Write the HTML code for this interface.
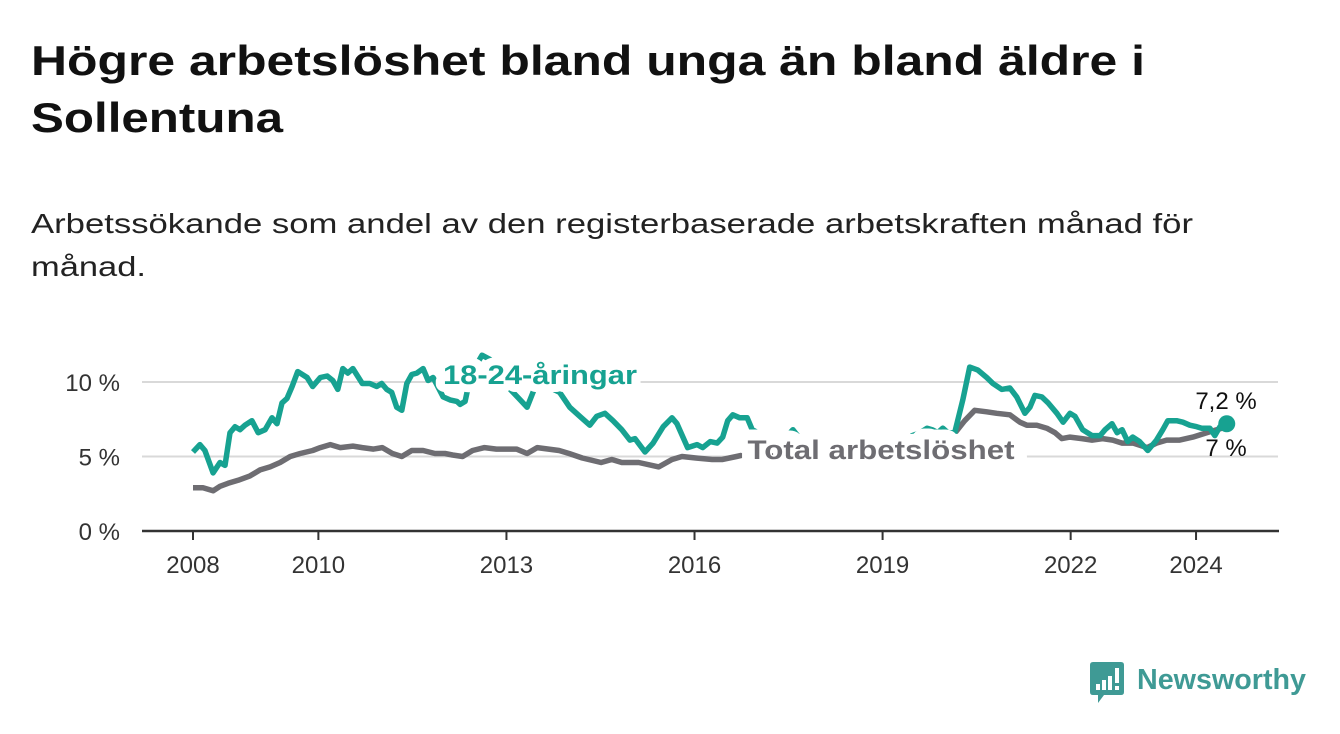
<!DOCTYPE html>
<html><head><meta charset="utf-8">
<style>
html,body{margin:0;padding:0;background:#fff;}
svg{display:block;font-family:"Liberation Sans",sans-serif;}
</style></head>
<body>
<svg id="chart" width="1340" height="734" viewBox="0 0 1340 734" xmlns="http://www.w3.org/2000/svg">
  <text font-weight="bold" font-size="42" fill="#111">
    <tspan x="31" y="75" textLength="1114" lengthAdjust="spacingAndGlyphs">Högre arbetslöshet bland unga än bland äldre i</tspan>
    <tspan x="31" y="132" textLength="252" lengthAdjust="spacingAndGlyphs">Sollentuna</tspan>
  </text>
  <text font-size="28" fill="#222">
    <tspan x="31" y="233" textLength="1162" lengthAdjust="spacingAndGlyphs">Arbetssökande som andel av den registerbaserade arbetskraften månad för</tspan>
    <tspan x="31" y="276" textLength="115" lengthAdjust="spacingAndGlyphs">månad.</tspan>
  </text>
  <g id="grid"></g>
  <g id="lines"></g>
  <g id="labels"></g>
  <g transform="translate(1090,662)">
    <path d="M3 0 H31 Q34 0 34 3 V30 Q34 33 31 33 H14 L8 41 V33 H3 Q0 33 0 30 V3 Q0 0 3 0Z" fill="#3f9a95"/>
    <rect x="6" y="22" width="4" height="6" fill="#fff"/>
    <rect x="12" y="18" width="4" height="10" fill="#fff"/>
    <rect x="18" y="14" width="4" height="14" fill="#fff"/>
    <rect x="25" y="6" width="4" height="15" fill="#fff"/>
    <rect x="25" y="24" width="4" height="4" fill="#fff"/>
    <text x="47" y="27" font-size="29" font-weight="bold" fill="#3f9a95" textLength="169" lengthAdjust="spacingAndGlyphs">Newsworthy</text>
  </g>
</svg>
<script>
const yTicks = [0, 5, 10];
const yTickLabels = ["0 %", "5 %", "10 %"];
const xTicks = [2008, 2010, 2013, 2016, 2019, 2022, 2024];
const youthYears = [2008.00,2008.11,2008.19,2008.32,2008.43,2008.51,2008.59,2008.67,2008.75,2008.83,2008.94,2009.04,2009.15,2009.26,2009.34,2009.42,2009.50,2009.58,2009.67,2009.82,2009.91,2010.03,2010.14,2010.23,2010.31,2010.39,2010.47,2010.55,2010.70,2010.82,2010.93,2011.01,2011.09,2011.17,2011.25,2011.33,2011.41,2011.49,2011.57,2011.67,2011.75,2011.83,2011.99,2012.10,2012.21,2012.26,2012.34,2012.37,2012.50,2012.61,2012.74,2012.90,2013.06,2013.22,2013.33,2013.45,2013.61,2013.85,2014.01,2014.17,2014.33,2014.44,2014.57,2014.70,2014.84,2014.97,2015.05,2015.21,2015.34,2015.50,2015.64,2015.72,2015.89,2016.04,2016.13,2016.25,2016.36,2016.45,2016.53,2016.61,2016.72,2016.84,2016.92,2017.01,2017.20,2017.44,2017.57,2017.68,2018.00,2018.48,2018.96,2019.28,2019.60,2019.71,2019.79,2019.88,2019.96,2020.04,2020.15,2020.28,2020.39,2020.52,2020.66,2020.76,2020.90,2021.03,2021.14,2021.27,2021.35,2021.43,2021.54,2021.64,2021.78,2021.88,2021.99,2022.07,2022.19,2022.34,2022.47,2022.55,2022.66,2022.74,2022.82,2022.91,2022.99,2023.10,2023.23,2023.37,2023.47,2023.55,2023.69,2023.79,2023.90,2024.01,2024.09,2024.22,2024.30,2024.38,2024.49];
const youthValues = [5.3,5.8,5.4,3.9,4.6,4.4,6.6,7.0,6.8,7.1,7.4,6.6,6.8,7.6,7.2,8.6,8.9,9.7,10.7,10.3,9.7,10.3,10.4,10.1,9.5,10.9,10.6,10.9,9.9,9.9,9.7,9.9,9.5,9.3,8.3,8.1,9.9,10.5,10.6,10.9,10.1,10.3,9.0,8.8,8.7,8.5,8.7,9.3,11.0,11.8,11.5,10.5,9.5,8.8,8.3,9.6,9.8,9.3,8.3,7.7,7.1,7.7,7.9,7.4,6.8,6.1,6.2,5.3,5.9,7.0,7.6,7.2,5.6,5.8,5.6,6.0,5.9,6.3,7.4,7.8,7.6,7.6,6.8,6.6,6.2,6.2,6.8,6.2,6.0,5.9,6.0,6.1,6.6,6.9,6.8,6.6,6.9,6.6,6.6,8.8,11.0,10.8,10.3,9.9,9.5,9.6,9.0,7.9,8.3,9.1,9.0,8.6,7.9,7.3,7.9,7.7,6.8,6.4,6.4,6.8,7.2,6.6,6.8,6.0,6.3,6.0,5.4,6.1,6.8,7.4,7.4,7.3,7.1,7.0,6.9,6.9,6.4,7.0,7.2];
const totalYears = [2008.00,2008.16,2008.32,2008.43,2008.56,2008.72,2008.91,2009.07,2009.23,2009.39,2009.55,2009.71,2009.91,2010.03,2010.19,2010.35,2010.55,2010.70,2010.88,2011.02,2011.18,2011.33,2011.49,2011.67,2011.86,2012.02,2012.14,2012.30,2012.46,2012.65,2012.84,2013.16,2013.33,2013.49,2013.84,2014.00,2014.21,2014.51,2014.68,2014.84,2015.11,2015.43,2015.64,2015.80,2016.02,2016.28,2016.44,2016.67,2016.88,2017.20,2017.60,2018.00,2018.50,2019.00,2019.50,2019.90,2020.12,2020.31,2020.47,2020.66,2020.82,2021.03,2021.19,2021.30,2021.46,2021.62,2021.75,2021.86,2021.99,2022.18,2022.34,2022.51,2022.67,2022.82,2023.00,2023.22,2023.37,2023.53,2023.74,2023.95,2024.17,2024.33,2024.49];
const totalValues = [2.9,2.9,2.7,3.0,3.2,3.4,3.7,4.1,4.3,4.6,5.0,5.2,5.4,5.6,5.8,5.6,5.7,5.6,5.5,5.6,5.2,5.0,5.4,5.4,5.2,5.2,5.1,5.0,5.4,5.6,5.5,5.5,5.2,5.6,5.4,5.2,4.9,4.6,4.8,4.6,4.6,4.3,4.8,5.0,4.9,4.8,4.8,5.0,5.2,5.3,5.2,5.1,5.0,5.1,5.3,5.8,6.4,7.4,8.1,8.0,7.9,7.8,7.3,7.1,7.1,6.9,6.6,6.2,6.3,6.2,6.1,6.2,6.1,5.9,5.9,5.6,5.9,6.1,6.1,6.3,6.6,6.8,7.0];
const lastLabels = ["7,2 %", "7 %"];

const NS = "http://www.w3.org/2000/svg";
const X0 = 193, XPY = 62.69, Y0 = 531, YPP = 14.9;
function xs(y){ return X0 + (y - 2008) * XPY; }
function ys(v){ return Y0 - v * YPP; }
function mk(tag, attrs, parent){
  const e = document.createElementNS(NS, tag);
  for (const k in attrs) e.setAttribute(k, attrs[k]);
  parent.appendChild(e);
  return e;
}
const grid = document.getElementById('grid');
const lines = document.getElementById('lines');
const labels = document.getElementById('labels');

yTicks.forEach((t, i) => {
  if (t !== 0) {
    const g = mk('line', {x1:142, x2:1278, y1:ys(t), y2:ys(t), stroke:'#d9d9d9', 'stroke-width':2}, grid);
    
    
  }
  const tx = mk('text', {x:120, y:ys(t)+9, 'text-anchor':'end', 'font-size':24, fill:'#333'}, grid);
  
  
  tx.textContent = yTickLabels[i];
});
const ax = mk('line', {x1:142, x2:1279, y1:Y0, y2:Y0, stroke:'#333', 'stroke-width':2.5}, grid);


xTicks.forEach(t => {
  const tk = mk('line', {x1:xs(t), x2:xs(t), y1:Y0, y2:Y0+9, stroke:'#333', 'stroke-width':2}, grid);
  
  
  const tl = mk('text', {x:xs(t), y:573, 'text-anchor':'middle', 'font-size':24, fill:'#333'}, grid);
  
  
  tl.textContent = t;
});

function pathOf(xsArr, vals){
  return xsArr.map((y,i) => (i ? 'L' : 'M') + xs(y).toFixed(1) + ' ' + ys(vals[i]).toFixed(1)).join(' ');
}
const pt = mk('path', {d:pathOf(totalYears, totalValues), fill:'none', stroke:'#6e6d72', 'stroke-width':5.5, 'stroke-linejoin':'round'}, lines);


const py = mk('path', {d:pathOf(youthYears, youthValues), fill:'none', stroke:'#17a291', 'stroke-width':5.5, 'stroke-linejoin':'round'}, lines);



const ly = youthYears[youthYears.length-1], lv = youthValues[youthValues.length-1];
const dot = mk('circle', {cx:xs(ly), cy:ys(lv), r:8.5, fill:'#17a291'}, lines);



const l1 = mk('text', {x:540, y:384, 'text-anchor':'middle', 'font-size':27, 'font-weight':'bold', fill:'#17a291', stroke:'#fff', 'stroke-width':16, 'paint-order':'stroke', 'stroke-linejoin':'round', textLength:194, lengthAdjust:'spacingAndGlyphs'}, labels);


l1.textContent = '18-24-åringar';
const l2 = mk('text', {x:881, y:459, 'text-anchor':'middle', 'font-size':27, 'font-weight':'bold', fill:'#6e6d72', stroke:'#fff', 'stroke-width':22, 'paint-order':'stroke', 'stroke-linejoin':'round', textLength:267, lengthAdjust:'spacingAndGlyphs'}, labels);


l2.textContent = 'Total arbetslöshet';
const v1 = mk('text', {x:1226, y:409, 'text-anchor':'middle', 'font-size':24, fill:'#111', stroke:'#fff', 'stroke-width':4, 'paint-order':'stroke'}, labels);


v1.textContent = lastLabels[0];
const v2 = mk('text', {x:1226, y:456, 'text-anchor':'middle', 'font-size':24, fill:'#111'}, labels);


v2.textContent = lastLabels[1];
</script>
</body></html>
